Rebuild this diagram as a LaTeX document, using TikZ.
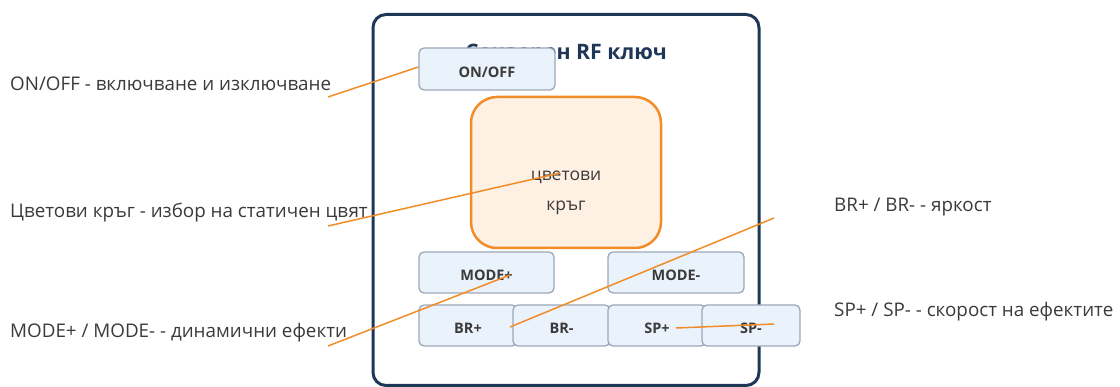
\documentclass[tikz,border=0pt]{standalone}
\usepackage{fontspec}
\setmainfont{Open Sans}
\usetikzlibrary{calc}
\definecolor{navy}{HTML}{1F3756}
\definecolor{txt}{HTML}{3A3A3A}
\definecolor{keyfill}{HTML}{EAF2FB}
\definecolor{keydraw}{HTML}{9CA7B9}
\definecolor{orng}{HTML}{F28C28}
\definecolor{orngfill}{HTML}{FEF1E3}
\tikzset{
  keybox/.style={draw=keydraw, fill=keyfill, line width=1.3pt, rounded corners=5pt,
    minimum height=41pt, inner sep=0pt, text=txt, text height=17pt, text depth=0pt,
    font=\fontsize{14.5}{16}\selectfont\bfseries},
  lbl/.style={anchor=base west, inner sep=0pt, text=txt, font=\fontsize{18.8}{22}\selectfont},
  wheeltxt/.style={anchor=base, inner sep=0pt, text=txt, font=\fontsize{17.5}{20}\selectfont},
  callout/.style={draw=orng, line width=1.5pt},
}
\begin{document}
\begin{tikzpicture}[x=1pt,y=-1pt]
\useasboundingbox (0,0) rectangle (1120,387);
% outer remote
\node[draw=navy, line width=3pt, rounded corners=13pt, minimum width=386pt, minimum height=371pt, inner sep=0pt] (remote) at (566,200) {};
\node[anchor=base, inner sep=0pt, text=navy, font=\fontsize{21.3}{24}\selectfont\bfseries] (title) at (566,59.3) {Сензорен RF ключ};
% keys
\node[keybox, minimum width=136pt, minimum height=42pt] (onoff) at (487,69) {ON/OFF};
\node[draw=orng, fill=orngfill, line width=2.5pt, rounded corners=26pt, minimum width=190pt, minimum height=151pt, inner sep=0pt] (wheel) at (566,172.5) {};
\node[wheeltxt] (wt1) at (566,180.7) {цветови};
\node[wheeltxt] (wt2) at (566,210.7) {кръг};
\node[keybox, minimum width=135pt] (modep) at (486.5,272.5) {MODE+};
\node[keybox, minimum width=136pt] (moden) at (676,272.5) {MODE-};
\node[keybox, minimum width=98pt] (brp) at (468,325.5) {BR+};
\node[keybox, minimum width=97pt] (brn) at (561.5,325.5) {BR-};
\node[keybox, minimum width=98pt] (spp) at (657,325.5) {SP+};
\node[keybox, minimum width=98pt] (spn) at (751,325.5) {SP-};
% labels
\node[lbl] (l1) at (10,90.7) {ON/OFF - включване и изключване};
\node[lbl] (l2) at (10,217.3) {Цветови кръг - избор на статичен цвят};
\node[lbl] (l3) at (10,337.3) {MODE+ / MODE- - динамични ефекти};
\node[lbl] (l4) at (834,211.7) {BR+ / BR- - яркост};
\node[lbl] (l5) at (834,316.7) {SP+ / SP- - скорост на ефектите};
% callout free ends
\coordinate (c1) at (328,97);
\coordinate (c2) at (328,226);
\coordinate (c3) at (328,346);
\coordinate (c4) at (774,218);
\coordinate (c5) at (774,324);
\draw[callout] (c1) -- ($(onoff.west)+(0,-2)$);
\draw[callout] (c2) -- ($(wheel.center)+(-6,0.5)$);
\draw[callout] (c3) -- ($(modep.center)+(23.5,2.5)$);
\draw[callout] ($(brp.center)+(42,1.5)$) -- (c4);
\draw[callout] ($(spp.center)+(19,2.5)$) -- (c5);
\end{tikzpicture}
\end{document}
